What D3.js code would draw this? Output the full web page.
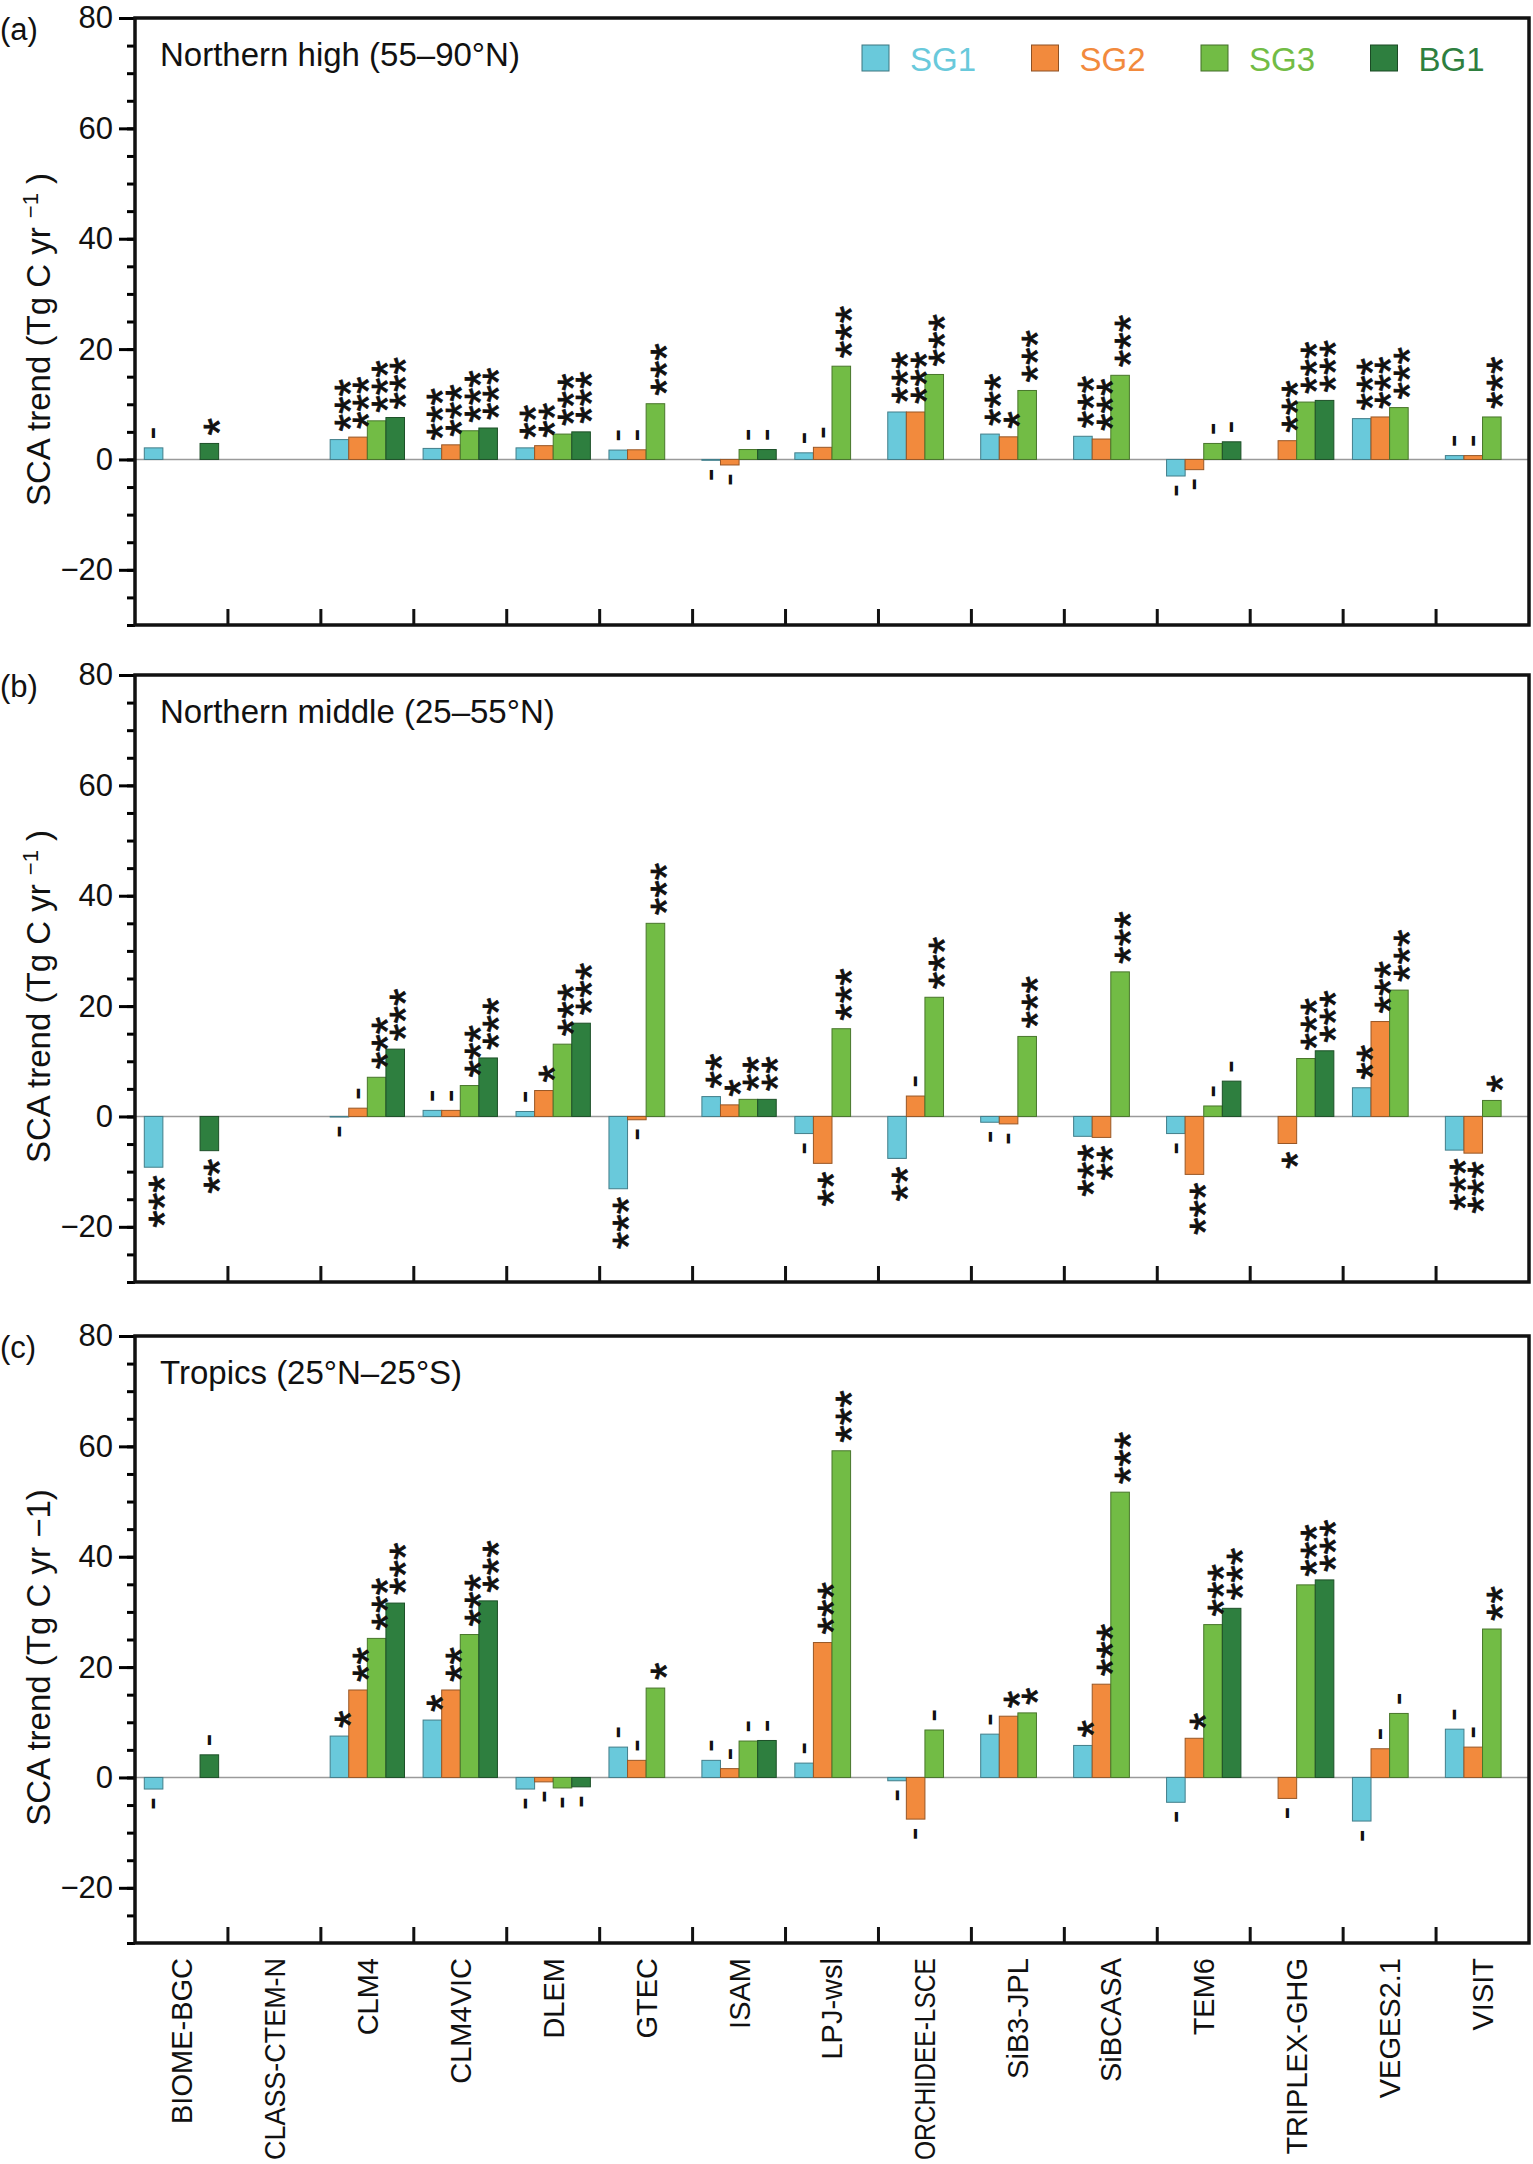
<!DOCTYPE html>
<html>
<head>
<meta charset="utf-8">
<script src="https://cdn.jsdelivr.net/npm/d3@7"></script>
<style>
  body { margin: 0; background: #fff; }
  text { font-family: "Liberation Sans", Arial, Helvetica, sans-serif; }
</style>
</head>
<body>
<script>
// models on the x axis
const models = ['BIOME-BGC', 'CLASS-CTEM-N', 'CLM4', 'CLM4VIC', 'DLEM', 'GTEC', 'ISAM', 'LPJ-wsl',
  'ORCHIDEE-LSCE', 'SiB3-JPL', 'SiBCASA', 'TEM6', 'TRIPLEX-GHG', 'VEGES2.1', 'VISIT'];
const seriesNames = ['SG1', 'SG2', 'SG3', 'BG1'];
const seriesColors = ['#69c9db', '#f28a3d', '#72bc45', '#2e7f3f'];
const yTicks = [-20, 0, 20, 40, 60, 80];

// (a) Northern high
const nhSG1 = [2.1, null, 3.6, 2.0, 2.1, 1.7, -0.15, 1.2, 8.6, 4.6, 4.2, -3.0, null, 7.4, 0.7];
const nhSG2 = [null, null, 4.05, 2.65, 2.5, 1.75, -1.0, 2.2, 8.6, 4.1, 3.7, -1.85, 3.4, 7.7, 0.7];
const nhSG3 = [null, null, 7.0, 5.2, 4.6, 10.1, 1.8, 16.9, 15.4, 12.5, 15.25, 2.9, 10.4, 9.4, 7.7];
const nhBG1 = [2.9, null, 7.6, 5.7, 5.0, null, 1.8, null, null, null, null, 3.2, 10.7, null, null];
const nhSG1Sig = ['-', null, '***', '***', '**', '-', '-', '-', '***', '***', '***', '-', null, '***', '-'];
const nhSG2Sig = [null, null, '***', '***', '**', '-', '-', '-', '***', '*', '***', '-', '***', '***', '-'];
const nhSG3Sig = [null, null, '***', '***', '***', '***', '-', '***', '***', '***', '***', '-', '***', '***', '***'];
const nhBG1Sig = ['*', null, '***', '***', '***', null, '-', null, null, null, null, '-', '***', null, null];

// (b) Northern middle
const nmSG1 = [-9.2, null, -0.1, 1.1, 0.9, -13.1, 3.6, -3.1, -7.6, -1.05, -3.6, -3.1, null, 5.2, -6.1];
const nmSG2 = [null, null, 1.5, 1.1, 4.7, -0.6, 2.1, -8.5, 3.7, -1.35, -3.8, -10.5, -4.9, 17.2, -6.65];
const nmSG3 = [null, null, 7.1, 5.6, 13.1, 35.0, 3.1, 15.9, 21.6, 14.5, 26.2, 1.9, 10.5, 22.9, 2.9];
const nmBG1 = [-6.2, null, 12.2, 10.6, 16.9, null, 3.1, null, null, null, null, 6.4, 11.9, null, null];
const nmSG1Sig = ['***', null, '-', '-', '-', '***', '**', '-', '**', '-', '***', '-', null, '**', '***'];
const nmSG2Sig = [null, null, '-', '-', '*', '-', '*', '**', '-', '-', '**', '***', '*', '***', '***'];
const nmSG3Sig = [null, null, '***', '***', '***', '***', '**', '***', '***', '***', '***', '-', '***', '***', '*'];
const nmBG1Sig = ['**', null, '***', '***', '***', null, '**', null, null, null, null, '-', '***', null, null];

// (c) Tropics
const trSG1 = [-2.1, null, 7.5, 10.4, -2.1, 5.5, 3.1, 2.6, -0.6, 7.85, 5.8, -4.5, null, -7.9, 8.75];
const trSG2 = [null, null, 15.85, 15.85, -0.8, 3.1, 1.6, 24.45, -7.55, 11.1, 16.9, 7.1, -3.8, 5.2, 5.5];
const trSG3 = [null, null, 25.2, 25.9, -1.9, 16.2, 6.6, 59.2, 8.6, 11.7, 51.7, 27.7, 34.9, 11.6, 26.9];
const trBG1 = [4.1, null, 31.6, 32.0, -1.7, null, 6.7, null, null, null, null, 30.65, 35.8, null, null];
const trSG1Sig = ['-', null, '*', '*', '-', '-', '-', '-', '-', '-', '*', '-', null, '-', '-'];
const trSG2Sig = [null, null, '**', '**', '-', '-', '-', '***', '-', '*', '***', '*', '-', '-', '-'];
const trSG3Sig = [null, null, '***', '***', '-', '*', '-', '***', '-', '*', '***', '***', '***', '-', '**'];
const trBG1Sig = ['-', null, '***', '***', '-', null, '-', null, null, null, null, '***', '***', null, null];

const panels = [
  { tag: '(a)', title: 'Northern high (55–90°N)', top: 18, sup: true, legend: true,
    values: [nhSG1, nhSG2, nhSG3, nhBG1], sigs: [nhSG1Sig, nhSG2Sig, nhSG3Sig, nhBG1Sig] },
  { tag: '(b)', title: 'Northern middle (25–55°N)', top: 675, sup: true, legend: false,
    values: [nmSG1, nmSG2, nmSG3, nmBG1], sigs: [nmSG1Sig, nmSG2Sig, nmSG3Sig, nmBG1Sig] },
  { tag: '(c)', title: 'Tropics (25°N–25°S)', top: 1336, sup: false, legend: false,
    values: [trSG1, trSG2, trSG3, trBG1], sigs: [trSG1Sig, trSG2Sig, trSG3Sig, trBG1Sig] }
];

const width = 1533, height = 2164;
const x0 = 135, x1 = 1529, panelH = 607;

const svg = d3.select('body').append('svg')
  .attr('width', width)
  .attr('height', height);

const x = d3.scaleBand().domain(models).range([x0, x1]).paddingInner(0.2).paddingOuter(0.1);
const xs = d3.scaleBand().domain(seriesNames).range([0, x.bandwidth()]);
const color = d3.scaleOrdinal().domain(seriesNames).range(seriesColors);
const fmt = d => d < 0 ? '\u2212' + Math.abs(d) : d;

panels.forEach(p => {
  const g = svg.append('g');
  const y = d3.scaleLinear().domain([-30, 80]).range([p.top + panelH, p.top]);

  // zero line
  g.append('line')
    .attr('x1', x0).attr('x2', x1)
    .attr('y1', y(0)).attr('y2', y(0))
    .attr('stroke', '#9a9a9a').attr('stroke-width', 1.5);

  // bars
  const rows = [];
  seriesNames.forEach((s, si) => {
    models.forEach((m, mi) => {
      const v = p.values[si][mi];
      if (v !== null) rows.push({ s, m, v, sig: p.sigs[si][mi] });
    });
  });

  g.selectAll('rect.bar')
    .data(rows)
    .join('rect')
    .attr('class', 'bar')
    .attr('x', d => x(d.m) + xs(d.s))
    .attr('y', d => y(Math.max(0, d.v)))
    .attr('width', xs.bandwidth())
    .attr('height', d => Math.abs(y(d.v) - y(0)))
    .attr('fill', d => color(d.s))
    .attr('stroke', d => d3.color(color(d.s)).darker(1.3))
    .attr('stroke-width', 1);

  // significance marks, written vertically
  g.selectAll('text.sig')
    .data(rows.filter(d => d.sig))
    .join('text')
    .attr('class', 'sig')
    .attr('transform', d => {
      const cx = x(d.m) + xs(d.s) + xs.bandwidth() / 2;
      const yy = d.v >= 0 ? y(d.v) - 8 : y(d.v) + 8;
      return `translate(${cx},${yy}) rotate(-90)`;
    })
    .attr('text-anchor', d => d.v >= 0 ? 'start' : 'end')
    .attr('dy', d => d.sig === '-' ? '0.27em' : '0.58em')
    .attr('font-size', d => d.sig === '-' ? 40 : 45)
    .attr('stroke', d => d.sig === '-' ? null : '#111')
    .attr('stroke-width', 0.8)
    .attr('fill', '#111')
    .text(d => d.sig);

  // y axis: minor then major ticks
  g.append('g')
    .attr('transform', `translate(${x0},0)`)
    .call(d3.axisLeft(y).tickValues(d3.range(-30, 81, 5)).tickSize(8).tickSizeOuter(0).tickFormat(''))
    .call(a => a.select('.domain').remove())
    .call(a => a.selectAll('line').attr('stroke-width', 3));

  g.append('g')
    .attr('transform', `translate(${x0},0)`)
    .call(d3.axisLeft(y).tickValues(yTicks).tickSize(16).tickSizeOuter(0).tickPadding(6).tickFormat(fmt))
    .call(a => a.select('.domain').remove())
    .call(a => a.selectAll('line').attr('stroke-width', 3))
    .call(a => a.selectAll('text').attr('font-size', 31).attr('fill', '#111')
      .attr('font-family', '"Liberation Sans", Arial, sans-serif'));

  // category dividers on the bottom axis, pointing inward
  g.selectAll('line.div')
    .data(models.slice(1))
    .join('line')
    .attr('class', 'div')
    .attr('x1', d => x(d) - x.step() * x.paddingInner() / 2)
    .attr('x2', d => x(d) - x.step() * x.paddingInner() / 2)
    .attr('y1', y(-30)).attr('y2', y(-30) - 16)
    .attr('stroke', '#111').attr('stroke-width', 3);

  // frame
  g.append('rect')
    .attr('x', x0).attr('y', p.top)
    .attr('width', x1 - x0).attr('height', panelH)
    .attr('fill', 'none').attr('stroke', '#111').attr('stroke-width', 3.5);

  g.append('text').attr('x', 0).attr('y', p.top + 22)
    .attr('font-size', 31).attr('fill', '#111').text(p.tag);

  g.append('text').attr('x', x0 + 25).attr('y', p.top + 48)
    .attr('font-size', 33).attr('fill', '#111').text(p.title);

  // y title
  const yt = g.append('text')
    .attr('transform', `translate(50,${p.top + panelH / 2 + 18}) rotate(-90)`)
    .attr('text-anchor', 'middle')
    .attr('font-size', 33).attr('fill', '#111');
  if (p.sup) {
    yt.append('tspan').text('SCA trend (Tg C yr ');
    yt.append('tspan').attr('baseline-shift', 'super').attr('font-size', 22).text('\u22121');
    yt.append('tspan').text(' )');
  } else {
    yt.text('SCA trend (Tg C yr \u22121)');
  }

  if (p.legend) {
    const lg = g.append('g').attr('transform', `translate(862,${p.top + 27})`);
    const item = lg.selectAll('g')
      .data(seriesNames)
      .join('g')
      .attr('transform', (d, i) => `translate(${i * 169.5},0)`);
    item.append('rect')
      .attr('width', 27).attr('height', 26)
      .attr('fill', d => color(d))
      .attr('stroke', d => d3.color(color(d)).darker(1.5)).attr('stroke-width', 1);
    item.append('text')
      .attr('x', 48).attr('y', 26)
      .attr('font-size', 33)
      .attr('fill', d => color(d))
      .text(d => d);
  }
});

// model names under the last panel
svg.append('g')
  .selectAll('text')
  .data(models)
  .join('text')
  .attr('transform', d => `translate(${x(d) + x.bandwidth() / 2},1958) rotate(-90)`)
  .attr('text-anchor', 'end')
  .attr('dy', '0.36em')
  .attr('font-size', 29)
  .attr('fill', '#111')
  .text(d => d)
  .each(function () {
    if (this.getComputedTextLength() > 202) {
      d3.select(this).attr('textLength', 202).attr('lengthAdjust', 'spacingAndGlyphs');
    }
  });
</script>
</body>
</html>
